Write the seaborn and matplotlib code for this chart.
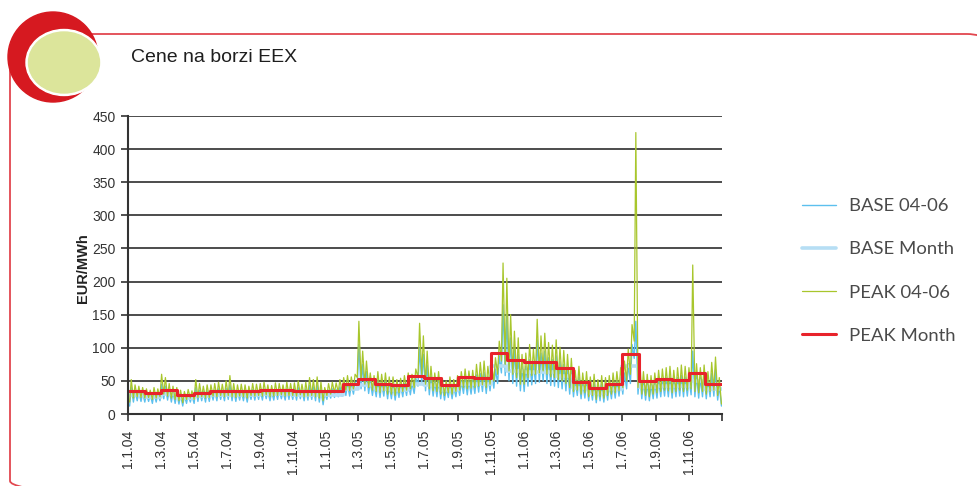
import pandas as pd
import seaborn as sns
import matplotlib.pyplot as plt
from matplotlib import font_manager
from matplotlib.patches import Circle, Ellipse, FancyBboxPatch

# weekly readings: high = midweek (Wed), low = weekend (Sun before it)
peak_high = [
    # 2004
    52, 44, 42, 40, 38, 36, 40, 38, 60, 55, 46, 42, 40, 36, 34, 37, 35,
    52, 46, 42, 44, 44, 46, 48, 45, 50, 58, 46, 44, 45, 44, 42, 46, 45,
    46, 48, 44, 43, 47, 46, 44, 48, 46, 47, 50, 45, 48, 55, 52, 56, 48, 40,
    # 2005
    46, 48, 47, 52, 55, 58, 56, 60, 140, 95, 80, 62, 58, 64, 60, 62, 56,
    56, 52, 54, 58, 62, 60, 68, 137, 118, 95, 72, 62, 64, 54, 50, 56, 52, 58,
    64, 68, 65, 66, 75, 78, 80, 72, 74, 85, 110, 228, 205, 150, 125, 115, 90,
    # 2006
    92, 105, 98, 143, 118, 122, 108, 104, 112, 101, 96, 90, 84, 66, 72, 62, 64,
    56, 60, 52, 58, 55, 58, 62, 64, 70, 80, 98, 135, 425, 85, 64, 60, 58, 62,
    66, 68, 70, 72, 66, 70, 74, 72, 70, 225, 76, 70, 74, 64, 78, 86, 55,
]
peak_low = [
    18, 24, 26, 25, 24, 25, 22, 24, 26, 30, 27, 24, 22, 20, 17, 22, 24,
    22, 25, 26, 24, 25, 27, 26, 28, 26, 28, 26, 25, 27, 26, 24, 28, 27,
    28, 27, 29, 26, 27, 28, 29, 27, 28, 28, 27, 29, 26, 27, 28, 26, 24, 20,
    28, 30, 32, 33, 34, 36, 35, 38, 55, 50, 45, 40, 36, 34, 32, 35, 30,
    30, 28, 32, 34, 36, 38, 40, 55, 60, 45, 38, 35, 34, 30, 28, 32, 30, 34,
    36, 40, 38, 39, 40, 42, 44, 40, 45, 50, 60, 80, 75, 65, 60, 55, 45,
    45, 55, 58, 60, 62, 65, 60, 56, 55, 52, 50, 46, 40, 34, 36, 30, 32,
    26, 28, 22, 26, 24, 28, 30, 32, 35, 40, 50, 60, 110, 40, 30, 28, 26, 30,
    32, 34, 36, 35, 32, 34, 36, 34, 36, 38, 34, 32, 34, 30, 34, 36, 28,
    15,
]
base_high = [
    40, 35, 34, 32, 31, 30, 32, 31, 45, 42, 37, 34, 32, 29, 28, 30, 28,
    40, 36, 34, 35, 35, 36, 38, 36, 39, 44, 37, 35, 36, 35, 34, 37, 36,
    37, 38, 35, 34, 37, 37, 35, 38, 37, 38, 40, 36, 38, 43, 41, 44, 38, 32,
    36, 38, 37, 41, 44, 46, 45, 48, 105, 75, 64, 50, 46, 50, 47, 49, 44,
    44, 41, 43, 46, 49, 47, 54, 100, 90, 74, 57, 49, 50, 43, 40, 44, 41, 46,
    50, 54, 51, 52, 59, 61, 63, 57, 60, 68, 88, 165, 150, 115, 98, 90, 72,
    72, 82, 77, 112, 92, 95, 85, 82, 88, 79, 75, 70, 66, 52, 56, 48, 50,
    44, 47, 41, 45, 43, 45, 48, 50, 55, 62, 76, 105, 140, 66, 50, 47, 45, 48,
    51, 53, 55, 56, 52, 55, 58, 56, 55, 95, 59, 55, 58, 50, 61, 67, 43,
]
base_low = [
    12, 18, 20, 19, 18, 19, 16, 18, 20, 23, 21, 18, 16, 15, 12, 16, 18,
    16, 19, 20, 18, 19, 21, 20, 22, 20, 22, 20, 19, 21, 20, 18, 22, 21,
    22, 21, 23, 20, 21, 22, 23, 21, 22, 22, 21, 23, 20, 21, 22, 20, 18, 14,
    22, 24, 25, 26, 27, 28, 27, 30, 42, 38, 35, 31, 28, 26, 25, 27, 23,
    23, 21, 25, 26, 28, 29, 31, 42, 46, 35, 29, 27, 26, 23, 21, 25, 23, 26,
    28, 31, 29, 30, 31, 33, 34, 31, 35, 39, 46, 62, 58, 50, 46, 42, 35,
    34, 42, 44, 46, 48, 50, 46, 43, 42, 40, 38, 35, 30, 26, 28, 23, 24,
    20, 21, 17, 20, 18, 21, 23, 24, 27, 30, 38, 46, 84, 30, 23, 21, 20, 23,
    24, 26, 27, 26, 24, 26, 27, 26, 27, 29, 26, 24, 26, 23, 26, 27, 21,
    12,
]

peak_month = [34, 31, 36, 29, 32, 35, 34, 35, 36, 36, 35, 35,
              35, 46, 53, 46, 44, 57, 54, 44, 56, 55, 92, 82,
              78, 79, 70, 49, 39, 46, 91, 50, 53, 52, 62, 46]
base_month = [28, 26, 30, 24, 27, 28, 28, 29, 30, 30, 29, 29,
              29, 38, 44, 38, 36, 46, 44, 36, 45, 45, 72, 65,
              63, 64, 57, 40, 32, 38, 72, 41, 43, 42, 50, 38]

tick_labels = ['1.1.04', '1.3.04', '1.5.04', '1.7.04', '1.9.04', '1.11.04',
               '1.1.05', '1.3.05', '1.5.05', '1.7.05', '1.9.05', '1.11.05',
               '1.1.06', '1.3.06', '1.5.06', '1.7.06', '1.9.06', '1.11.06', '']
series_names = ['BASE 04-06', 'BASE Month', 'PEAK 04-06', 'PEAK Month']


def weave(lows, highs):
    out = []
    for lo, hi in zip(lows, highs):
        out += [lo, hi]
    return out + lows[len(highs):]


sundays = pd.date_range('2004-01-04', periods=157, freq='7D')
wednesdays = pd.date_range('2004-01-07', periods=156, freq='7D')
daily = pd.DataFrame({'date': weave(list(sundays), list(wednesdays)),
                      'base': weave(base_low, base_high),
                      'peak': weave(peak_low, peak_high)})
months = pd.date_range('2004-01-01', periods=37, freq='MS')
monthly = pd.DataFrame({'date': months,
                        'base': base_month + base_month[-1:],
                        'peak': peak_month + peak_month[-1:]})

sns.set_style('white')
installed = {f.name for f in font_manager.fontManager.ttflist}
if 'Liberation Sans Narrow' in installed:
    narrow, tick_size, title_size = 'Liberation Sans Narrow', 10.5, 15
else:
    narrow, tick_size, title_size = 'Liberation Sans', 10, 14
plt.rcParams['font.family'] = [narrow, 'DejaVu Sans']

fig = plt.figure(figsize=(9.77, 4.86), dpi=100)

# decorative frame
bg = fig.add_axes([0, 0, 1, 1], zorder=-1)
bg.set_xlim(0, 977)
bg.set_ylim(486, 0)
bg.axis('off')
bg.add_patch(FancyBboxPatch((10, 34), 985, 475, boxstyle='round,pad=0,rounding_size=28',
                            fill=False, ec='#e2474f', lw=1.3))
bg.add_patch(Circle((53, 57), 45, color='#d61920'))
bg.add_patch(Ellipse((64, 62.5), 76, 66, color='white'))
bg.add_patch(Ellipse((64, 62.5), 71, 61, color='#dce59b'))
fig.text(131 / 977, 1 - 57 / 486, 'Cene na borzi EEX', fontsize=title_size, color='#1e1e1e',
         va='center', ha='left')

ax = fig.add_axes([128 / 977, 1 - 414 / 486, 594 / 977, 298 / 486])
sns.lineplot(data=daily, x='date', y='base', ax=ax, color='#5cc0ee', lw=1.0,
             label=series_names[0])
sns.lineplot(data=monthly, x='date', y='base', ax=ax, color='#b6def4', lw=2.6,
             drawstyle='steps-post', label=series_names[1])
sns.lineplot(data=daily, x='date', y='peak', ax=ax, color='#a8c62c', lw=0.9,
             label=series_names[2])
sns.lineplot(data=monthly, x='date', y='peak', ax=ax, color='#e8232b', lw=2.2,
             drawstyle='steps-post', label=series_names[3])

ax.set_xlim(pd.Timestamp('2004-01-01'), pd.Timestamp('2007-01-01'))
ax.set_ylim(0, 450)
ax.set_yticks(range(0, 451, 50))
ax.set_xticks(pd.date_range('2004-01-01', '2007-01-01', freq='2MS'))
ax.set_xticklabels(tick_labels, rotation=90)
ax.yaxis.grid(True, color='#2e2e2e', lw=1.2)
ax.set_axisbelow(True)
sns.despine(ax=ax)
for s in ['left', 'bottom']:
    ax.spines[s].set_color('#333333')
    ax.spines[s].set_linewidth(1.5)
ax.tick_params(axis='both', direction='out', length=5, width=1.2, color='#333333',
               labelsize=tick_size, labelcolor='#333333', bottom=True, left=True)
ax.tick_params(axis='y', pad=4)
ax.tick_params(axis='x', pad=6)
ax.set_xlabel('')
ax.set_ylabel('EUR/MWh', fontsize=10.5, fontweight='bold', color='#222222')
ax.yaxis.set_label_coords(-0.064, 0.49)

handles, labels = ax.get_legend_handles_labels()
ax.legend_.remove()
fig.legend(handles, labels, loc='center left', bbox_to_anchor=(802 / 977, 1 - 271 / 486),
           frameon=False, prop={'family': 'Lato', 'size': 13.3}, labelcolor='#4a4a4a',
           handlelength=1.85, handletextpad=0.7, labelspacing=1.47, borderpad=0,
           borderaxespad=0)

fig.savefig('out.png', dpi=100, facecolor='white')
